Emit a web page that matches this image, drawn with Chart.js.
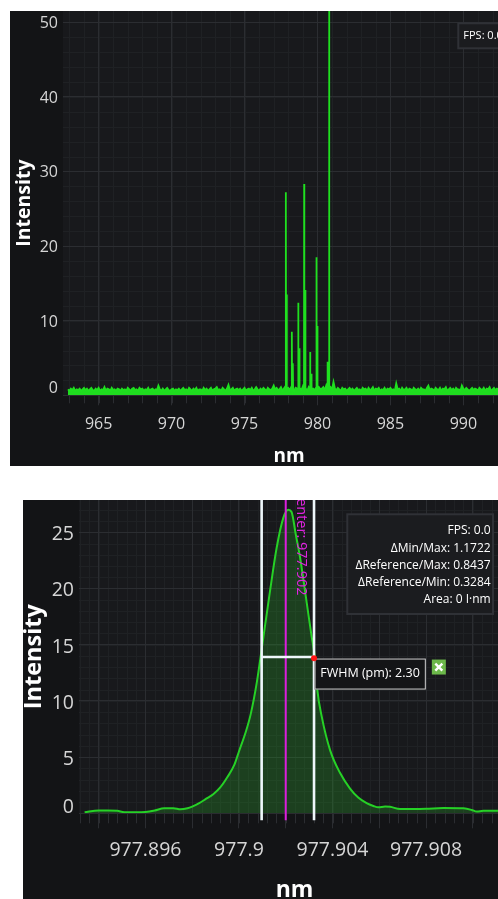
<!DOCTYPE html>
<html><head><meta charset="utf-8">
<script src="https://cdn.jsdelivr.net/npm/chart.js@4.4.1/dist/chart.umd.min.js"></script>
<style>
html,body{margin:0;padding:0;background:#fff;overflow:hidden;width:498px;height:899px}
#wrap1{position:absolute;left:10px;top:11px;width:488px;height:455px;overflow:hidden}
#wrap2{position:absolute;left:23px;top:500px;width:475px;height:399px;overflow:hidden}
canvas{display:block}
</style></head><body>
<div id="wrap1"><canvas id="c1" width="505" height="455"></canvas></div>
<div id="wrap2"><canvas id="c2" width="487" height="399"></canvas></div>
<script>
// ---------- Top panel: full spectrum ----------
const topStartNm = 962.9;
const topStepNm = 0.1;
const topBaseline = [
0.8,0.6,0.9,0.7,1.0,0.6,0.8,0.7,0.9,0.6,0.8,1.0,0.7,0.9,0.6,0.8,1.0,0.7,0.6,0.9,
0.7,1.0,0.6,0.8,0.7,1.1,0.6,0.9,0.8,0.6,1.0,0.7,0.8,0.6,0.9,0.8,0.6,0.9,0.7,0.8,
0.6,1.0,0.8,0.6,0.9,1.0,0.7,0.8,0.6,1.0,0.8,0.9,0.6,0.8,0.7,1.0,0.6,0.8,0.9,0.6,
0.8,0.7,1.3,0.8,0.6,0.9,0.6,0.8,1.0,0.7,0.6,0.8,0.9,0.6,0.8,0.7,0.9,0.6,0.8,1.0,
0.7,0.8,0.6,1.0,0.8,0.6,0.9,0.7,1.0,0.6,0.8,0.8,0.6,1.0,0.7,0.9,0.6,0.8,1.0,0.6,
0.8,0.9,1.1,0.7,0.8,0.6,1.0,0.8,0.6,0.9,1.4,0.7,0.8,1.0,0.6,0.8,0.9,0.7,0.9,0.6,
0.8,1.0,0.6,0.8,0.9,0.7,1.0,0.6,0.8,1.1,0.8,0.6,0.9,0.7,1.0,0.8,0.6,1.0,0.8,0.7,
0.9,1.3,0.8,1.0,0.7,0.8,1.1,0.6,0.9,1.2,0.8,1.0,0.7,1.1,0.8,0.6,1.0,0.9,0.8,1.0,
0.7,1.2,0.8,1.0,0.6,1.1,0.8,1.3,0.9,0.7,1.0,0.8,1.1,0.8,0.9,1.1,0.7,1.3,1.0,0.8,
1.1,0.8,1.8,0.9,0.7,1.0,0.8,0.6,1.0,0.8,0.9,0.6,0.8,1.0,0.7,0.9,0.6,0.8,1.0,0.7,
0.8,0.6,1.0,0.8,0.9,0.6,1.0,0.7,0.8,1.1,0.6,0.9,0.8,1.0,0.6,0.8,0.7,1.0,0.6,0.9,
0.8,1.0,0.7,0.8,0.6,1.6,0.8,0.9,0.6,1.0,0.7,0.8,1.0,0.6,0.9,0.8,0.6,1.0,0.8,0.7,
0.9,0.6,1.0,0.8,0.8,0.6,1.0,1.3,0.7,0.9,0.8,0.6,1.0,0.8,0.7,1.0,0.6,0.9,0.8,1.1,
0.6,0.8,1.0,0.7,0.9,0.6,1.0,0.8,0.8,0.6,1.3,0.9,0.7,1.0,0.8,0.6,0.8,1.0,0.7,0.9,
0.8,0.6,1.0,0.8,0.7,1.0,0.6,0.9,0.8,1.1,0.6,0.8,1.0,0.7,0.9,0.8,0.6,1.0,0.8,0.7,
1.0,0.6,0.8,0.9,0.7,0.8
];
const peakNm        = [977.84, 977.90, 978.25, 978.32, 978.68, 978.75, 979.09, 979.16, 979.50, 979.59, 979.93, 980.00, 980.69, 980.80];
const peakIntensity = [27.2,   13.5,   8.5,    4.3,    12.4,   6.3,    28.3,   14.1,   5.8,    2.9,    18.5,   9.3,    4.5,    62.0];
const peakFoot = 0.8;
const topXTicks = [965, 970, 975, 980, 985, 990];
const topYTicks = [0, 10, 20, 30, 40, 50];

// ---------- Bottom panel: zoom on 977.902 nm line ----------
const zoomNm = [977.8934,977.8940,977.8944,977.8948,977.8951,977.8956,977.8960,977.8964,977.8968,977.8972,
977.8975,977.8978,977.8980,977.8983,977.8986,977.8989,977.8992,977.8995,977.8998,977.9000,
977.9003,977.9005,977.90076,977.90104,977.90133,977.90161,977.9019,977.90211,977.90225,977.90243,
977.90261,977.9029,977.90311,977.90325,977.90335,977.90354,977.9039,977.90432,977.90475,977.9051,
977.90546,977.90575,977.90596,977.90625,977.90646,977.90689,977.9075,977.9080,977.90874,977.9096,
977.90995,977.91017,977.91045,977.9116];
const zoomIntensity = [0.1,0.25,0.25,0.22,0.1,0.1,0.12,0.25,0.45,0.45,
0.35,0.45,0.6,0.9,1.3,1.7,2.3,3.2,4.3,5.5,
7.3,8.8,11.6,15.6,19.8,23.6,26.3,27.0,26.8,24.8,
22.8,18.7,15.7,13.8,11.0,8.6,5.6,3.6,2.2,1.4,
0.9,0.65,0.53,0.6,0.58,0.38,0.38,0.4,0.47,0.44,
0.3,0.15,0.23,0.23];
const zoomXTicks  = [977.894, 977.896, 977.898, 977.9, 977.902, 977.904, 977.906, 977.908, 977.91];
const zoomXLabels = ['', '977.896', '', '977.9', '', '977.904', '', '977.908', ''];
const zoomYTicks  = [0, 5, 10, 15, 20, 25];
const fwhmLeftNm = 977.90097, fwhmRightNm = 977.90321, fwhmHalf = 13.9, centerNm = 977.902;
const infoLines = ['FPS: 0.0', 'ΔMin/Max: 1.1722', 'ΔReference/Max: 0.8437', 'ΔReference/Min: 0.3284', 'Area: 0 I·nm'];
const fwhmText = 'FWHM (pm): 2.30';
const centerText = 'Center: 977.902';
const topFpsText = 'FPS: 0.0';

// ---------- build point lists ----------
const topPoints = topBaseline.map((v, i) => ({x: +(topStartNm + i * topStepNm).toFixed(2), y: v}));
peakNm.forEach((p, k) => {
  topPoints.push({x: p - 0.012, y: peakFoot}, {x: p, y: peakIntensity[k]}, {x: p + 0.012, y: peakFoot});
});
topPoints.sort((a, b) => a.x - b.x);
const zoomPoints = zoomNm.map((v, i) => ({x: v, y: zoomIntensity[i]}));

const FONT = '"Open Sans", "Noto Sans", sans-serif';
const MAJOR = '#2b2d31', MINOR = '#1f2124';

const panelPlugin = {
  id: 'panel',
  beforeDraw(chart, args, o) {
    const {ctx, chartArea: a, scales: {x, y}} = chart;
    ctx.save();
    ctx.fillStyle = o.bg; ctx.fillRect(0, 0, chart.width, chart.height);
    ctx.fillStyle = o.plotBg; ctx.fillRect(a.left, a.top, a.right - a.left, a.bottom - a.top);
    ctx.strokeStyle = MINOR; ctx.lineWidth = 1;
    ctx.beginPath();
    for (let k = 0; ; k++) {
      const v = o.xMinorStart + k * o.xMinorStep; if (v > x.max) break;
      const px = Math.round(x.getPixelForValue(v)) + 0.5; if (px < a.left) continue;
      ctx.moveTo(px, a.top); ctx.lineTo(px, a.bottom);
    }
    for (let k = 0; ; k++) {
      const v = o.yMinorStart + k * o.yMinorStep; if (v > y.max) break;
      const py = Math.round(y.getPixelForValue(v)) + 0.5;
      ctx.moveTo(a.left, py); ctx.lineTo(a.right, py);
    }
    ctx.stroke();
    ctx.strokeStyle = MAJOR; ctx.beginPath();
    for (let k = 0; ; k++) {
      const v = o.xMinorStart + k * o.xMinorStep; if (v > x.max) break;
      const px = Math.round(x.getPixelForValue(v)) + 0.5; if (px < a.left) continue;
      ctx.moveTo(px, a.bottom); ctx.lineTo(px, a.bottom + o.minorTick);
    }
    ctx.stroke();
    ctx.restore();
  }
};

const overlayTop = {
  id: 'overlayTop',
  afterDraw(chart) {
    const {ctx} = chart;
    ctx.save();
    ctx.fillStyle = '#1b1c1f'; ctx.strokeStyle = '#2f3136'; ctx.lineWidth = 2;
    ctx.fillRect(448.3, 12.3, 60, 25); ctx.strokeRect(448.3, 12.3, 60, 25);
    ctx.fillStyle = '#ffffff'; ctx.font = '11px ' + FONT; ctx.textBaseline = 'middle'; ctx.textAlign = 'left';
    ctx.fillText(topFpsText, 453.3, 25);
    ctx.restore();
  }
};

const overlayZoom = {
  id: 'overlayZoom',
  afterDatasetsDraw(chart) {
    const {ctx, chartArea: a, scales: {x, y}} = chart;
    const lx = x.getPixelForValue(fwhmLeftNm), rx = x.getPixelForValue(fwhmRightNm);
    const cx = x.getPixelForValue(centerNm), hy = y.getPixelForValue(fwhmHalf);
    const bot = a.bottom + 7;
    ctx.save();
    ctx.lineCap = 'butt';
    ctx.strokeStyle = '#dc1edc'; ctx.lineWidth = 2;
    ctx.beginPath(); ctx.moveTo(cx, a.top); ctx.lineTo(cx, bot); ctx.stroke();
    ctx.strokeStyle = '#eef7fb'; ctx.lineWidth = 2.6;
    ctx.beginPath();
    ctx.moveTo(lx, a.top); ctx.lineTo(lx, bot);
    ctx.moveTo(rx, a.top); ctx.lineTo(rx, bot);
    ctx.moveTo(lx, hy); ctx.lineTo(rx, hy);
    ctx.stroke();
    // center label
    ctx.save();
    ctx.translate(cx + 11.5, a.top - 11); ctx.rotate(Math.PI / 2);
    ctx.fillStyle = '#e024e0'; ctx.font = '14.5px ' + FONT; ctx.textBaseline = 'alphabetic'; ctx.textAlign = 'left';
    ctx.fillText(centerText, 0, 0);
    ctx.restore();
    // FWHM box
    const bx = rx + 0.5, by = hy + 1.5;
    ctx.fillStyle = '#141517'; ctx.fillRect(bx, by, 111.3, 31);
    ctx.strokeStyle = '#cfcfcf'; ctx.lineWidth = 1; ctx.strokeRect(bx + 0.5, by + 0.5, 110.3, 30);
    ctx.fillStyle = '#ffffff'; ctx.font = '12.5px ' + FONT; ctx.textBaseline = 'middle'; ctx.textAlign = 'left';
    ctx.fillText(fwhmText, bx + 5.7, by + 14.5);
    // red dot
    ctx.fillStyle = '#ff1414'; ctx.beginPath(); ctx.arc(rx, hy + 1.2, 3, 0, Math.PI * 2); ctx.fill();
    // green close icon
    const gx = bx + 117.3, gy = by + 1;
    ctx.fillStyle = '#6cb84a'; ctx.fillRect(gx, gy, 14, 15);
    ctx.strokeStyle = '#ffffff'; ctx.lineWidth = 2.4;
    ctx.beginPath(); ctx.moveTo(gx + 3.5, gy + 4); ctx.lineTo(gx + 10.5, gy + 11); ctx.moveTo(gx + 10.5, gy + 4); ctx.lineTo(gx + 3.5, gy + 11); ctx.stroke();
    ctx.restore();
  },
  afterDraw(chart) {
    const {ctx} = chart;
    ctx.save();
    ctx.fillStyle = '#1b1c1f'; ctx.strokeStyle = '#2f3136'; ctx.lineWidth = 2;
    ctx.fillRect(324.3, 14.3, 145.7, 99.7); ctx.strokeRect(324.3, 14.3, 145.7, 99.7);
    ctx.fillStyle = '#ffffff'; ctx.font = '12px ' + FONT; ctx.textBaseline = 'middle'; ctx.textAlign = 'right';
    const ys = [30.7, 48.3, 65.3, 82.3, 100];
    infoLines.forEach((t, i) => ctx.fillText(t, 467.7, ys[i]));
    ctx.restore();
  }
};

function axisX(min, max, ticks, labels, fs, tickLen, pad, h, tfs, tpad) {
  return {
    type: 'linear', min, max,
    afterBuildTicks: s => { s.ticks = ticks.map(v => ({value: v})); },
    afterFit: s => { s.height = h; s.paddingLeft = 0; s.paddingRight = 0; },
    ticks: {color: '#d6d6d6', font: {family: FONT, size: fs}, padding: pad, maxRotation: 0, autoSkip: false,
      callback: (v, i) => labels ? labels[i] : String(v)},
    grid: {color: MAJOR, tickLength: tickLen, lineWidth: 1},
    border: {display: false},
    title: {display: true, text: 'nm', color: '#ffffff', font: {family: FONT, size: tfs, weight: 'bold', lineHeight: 0.7}, padding: {top: 0, bottom: tpad}}
  };
}
function axisY(min, max, ticks, fs, lh, off, w, tfs, tpad) {
  return {
    min, max,
    afterBuildTicks: s => { s.ticks = ticks.map(v => ({value: v})); },
    afterFit: s => { s.width = w; s.paddingTop = 0; s.paddingBottom = 0; },
    ticks: {color: '#d6d6d6', font: {family: FONT, size: fs, lineHeight: lh}, padding: 5, labelOffset: off,
      callback: v => v === 0 ? ['0', ''] : String(v)},
    grid: {color: MAJOR, drawTicks: false, lineWidth: 1},
    border: {display: false},
    title: {display: true, text: 'Intensity', color: '#ffffff', font: {family: FONT, size: tfs, weight: 'bold', lineHeight: 1}, padding: {top: tpad, bottom: 0}}
  };
}

new Chart(document.getElementById('c1'), {
  type: 'line',
  data: {datasets: [{data: topPoints, borderColor: '#1fe01f', borderWidth: 1.8, pointRadius: 0, tension: 0,
    fill: 'origin', backgroundColor: '#1fdc1f'}]},
  options: {
    responsive: false, animation: false, parsing: false, normalized: true,
    layout: {padding: 0},
    plugins: {legend: {display: false}, tooltip: {enabled: false},
      panel: {bg: '#131416', plotBg: '#18191c', xMinorStart: 963, xMinorStep: 1, yMinorStart: 0, yMinorStep: 2, minorTick: 8}},
    scales: {
      x: axisX(962.56, 993.54, topXTicks, null, 16, 10, 9.5, 70.7, 19, 3),
      y: axisY(0, 51.5, topYTicks, 16, '17px', 1.5, 53, 19.5, 4.5)
    }
  },
  plugins: [panelPlugin, overlayTop]
});

new Chart(document.getElementById('c2'), {
  type: 'line',
  data: {datasets: [{data: zoomPoints, borderColor: '#26d126', borderWidth: 2, pointRadius: 0,
    cubicInterpolationMode: 'monotone', fill: 'origin', backgroundColor: 'rgba(40,190,40,0.24)'}]},
  options: {
    responsive: false, animation: false, parsing: false,
    layout: {padding: 0},
    plugins: {legend: {display: false}, tooltip: {enabled: false},
      panel: {bg: '#131416', plotBg: '#18191c', xMinorStart: 977.8932, xMinorStep: 0.0004, yMinorStart: 0, yMinorStep: 1, minorTick: 10}},
    scales: {
      x: axisX(977.89316, 977.91159, zoomXTicks, zoomXLabels, 19.5, 15, 10.3, 85.7, 23, 0),
      y: axisY(0, 27.87, zoomYTicks, 19.5, '17px', 2.3, 56, 23.5, 0)
    }
  },
  plugins: [panelPlugin, overlayZoom]
});
</script>
</body></html>
